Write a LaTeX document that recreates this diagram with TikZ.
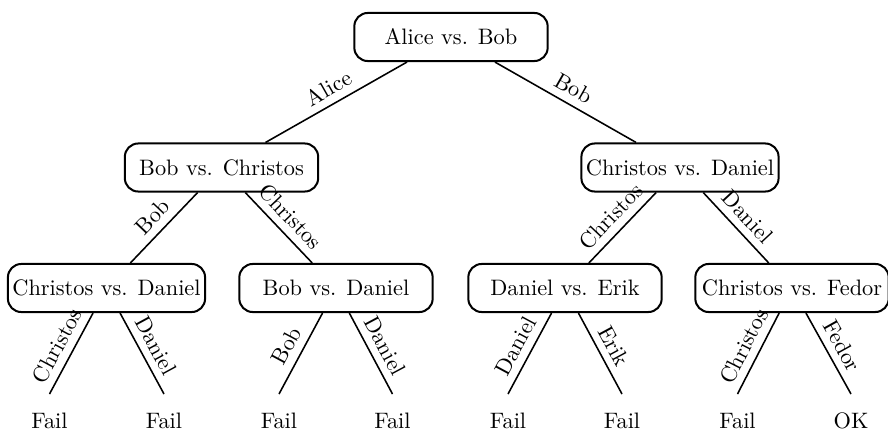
\documentclass[tikz,border=0pt]{standalone}
\begin{document}
\begin{tikzpicture}[x=0.4474pt,y=-0.4474pt,
  box/.style={draw, line width=0.9pt, rounded corners=6pt, minimum width=86.5pt, minimum height=21.5pt, inner sep=2pt},
  leaf/.style={anchor=north, inner xsep=2pt, inner ysep=0pt, text height=15.3pt, text depth=0pt},
  conn/.style={line width=0.7pt},
  lbl/.style={midway, sloped, above}]
\useasboundingbox (0,0) rectangle (888,429);
% nodes
\node[box] (root) at (451,37) {Alice vs. Bob};
\node[box] (L) at (221.5,167.5) {Bob vs. Christos};
\node[box] (R) at (680,167.5) {Christos vs. Daniel};
\node[box] (LL) at (106.5,288) {Christos vs. Daniel};
\node[box] (LR) at (336,288) {Bob vs. Daniel};
\node[box] (RL) at (565,288) {Daniel vs. Erik};
\node[box] (RR) at (792,288) {Christos vs. Fedor};
\node[leaf] (f1) at (49.5,394) {Fail};
\node[leaf] (f2) at (164,394) {Fail};
\node[leaf] (f3) at (279,394) {Fail};
\node[leaf] (f4) at (392.5,394) {Fail};
\node[leaf] (f5) at (508,394) {Fail};
\node[leaf] (f6) at (622,394) {Fail};
\node[leaf] (f7) at (737.5,394) {Fail};
\node[leaf] (f8) at (851,394) {OK};
% edges
\draw[conn] (root) -- (L) node[lbl] {Alice};
\draw[conn] (root) -- (R) node[lbl] {Bob};
\draw[conn] (L) -- (LL) node[lbl] {Bob};
\draw[conn] (L) -- (LR) node[lbl] {Christos};
\draw[conn] (R) -- (RL) node[lbl] {Christos};
\draw[conn] (R) -- (RR) node[lbl] {Daniel};
\draw[conn] (LL) -- (f1.north) node[lbl] {Christos};
\draw[conn] (LL) -- (f2.north) node[lbl] {Daniel};
\draw[conn] (LR) -- (f3.north) node[lbl] {Bob};
\draw[conn] (LR) -- (f4.north) node[lbl] {Daniel};
\draw[conn] (RL) -- (f5.north) node[lbl] {Daniel};
\draw[conn] (RL) -- (f6.north) node[lbl] {Erik};
\draw[conn] (RR) -- (f7.north) node[lbl] {Christos};
\draw[conn] (RR) -- (f8.north) node[lbl] {Fedor};
\end{tikzpicture}
\end{document}
